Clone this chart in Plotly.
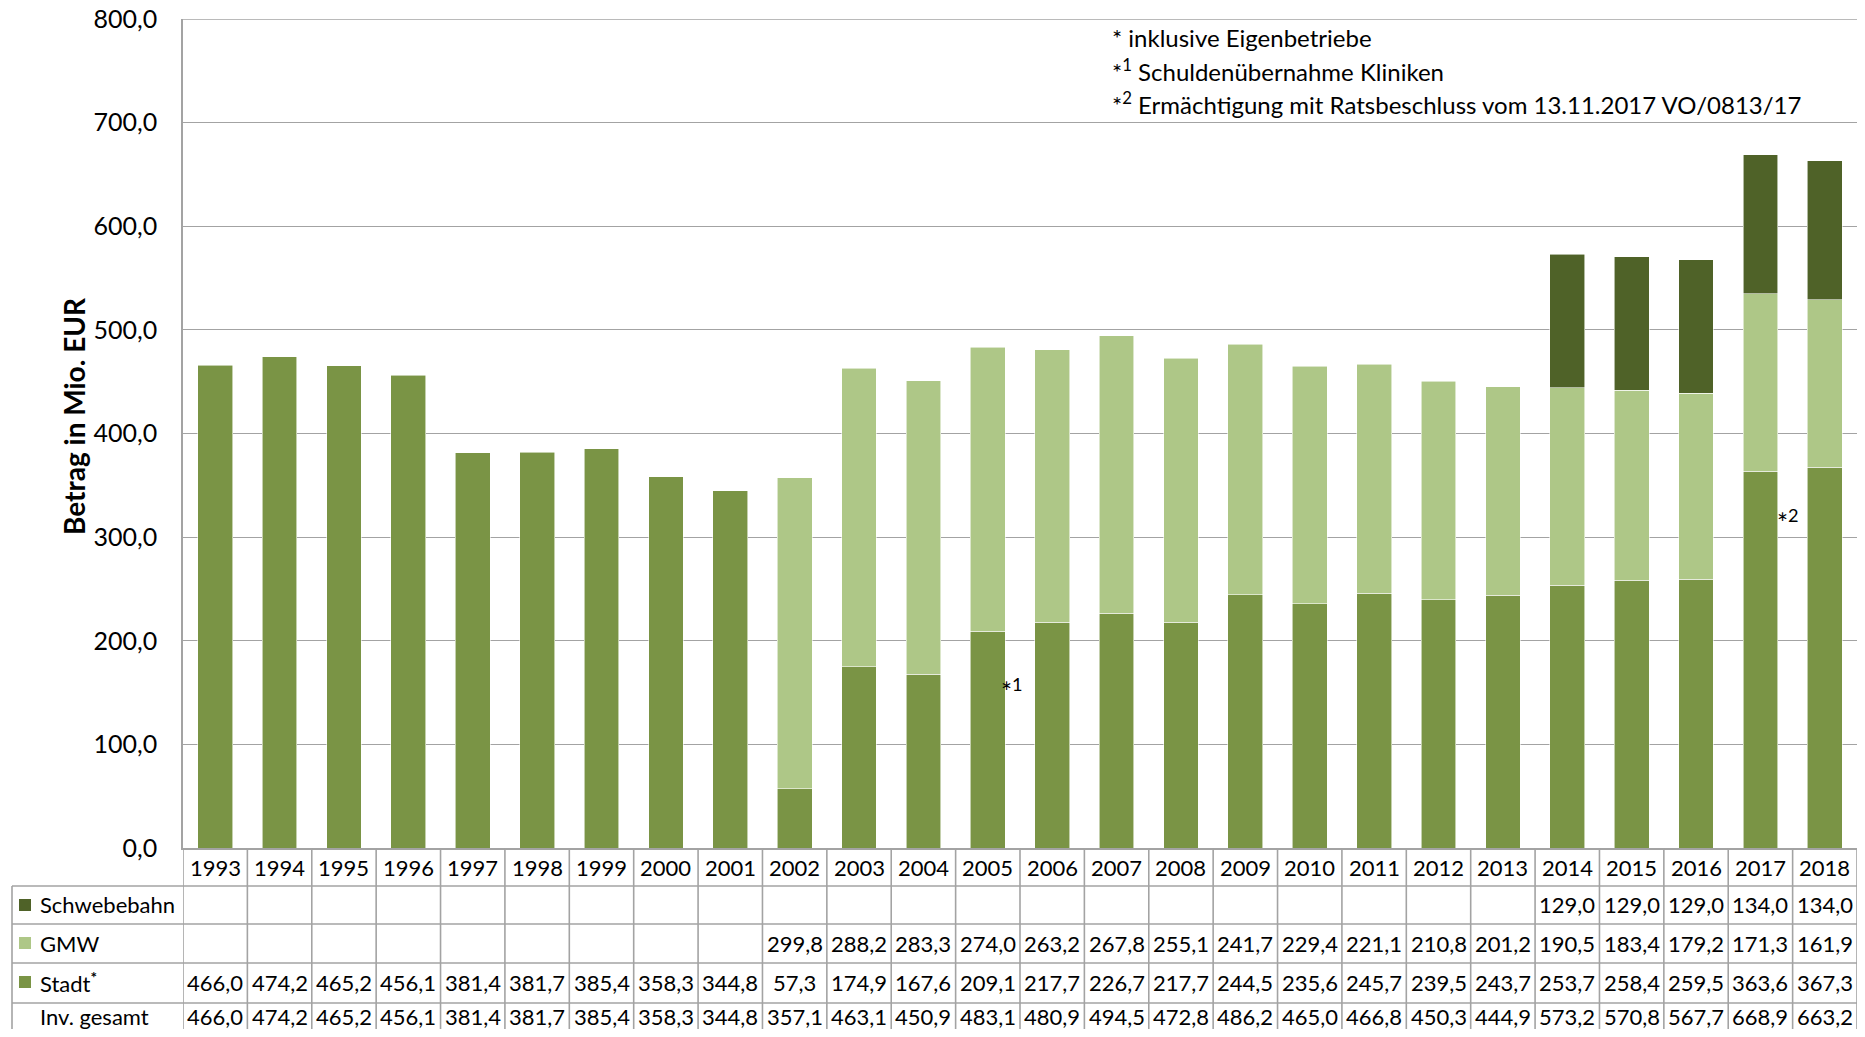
import plotly.graph_objects as go

years = list(range(1993, 2019))
stadt = [466.0, 474.2, 465.2, 456.1, 381.4, 381.7, 385.4, 358.3, 344.8, 57.3, 174.9, 167.6, 209.1,
         217.7, 226.7, 217.7, 244.5, 235.6, 245.7, 239.5, 243.7, 253.7, 258.4, 259.5, 363.6, 367.3]
gmw = [None] * 9 + [299.8, 288.2, 283.3, 274.0, 263.2, 267.8, 255.1, 241.7, 229.4, 221.1, 210.8,
                    201.2, 190.5, 183.4, 179.2, 171.3, 161.9]
schwebebahn = [None] * 21 + [129.0, 129.0, 129.0, 134.0, 134.0]
gesamt = [466.0, 474.2, 465.2, 456.1, 381.4, 381.7, 385.4, 358.3, 344.8, 357.1, 463.1, 450.9, 483.1,
          480.9, 494.5, 472.8, 486.2, 465.0, 466.8, 450.3, 444.9, 573.2, 570.8, 567.7, 668.9, 663.2]

C_STADT = "#7A9445"
C_GMW = "#AEC787"
C_SB = "#4F6228"
GRID = "#A3A3A3"
FONT = "Lato"

OFF = 8  # page body margin
W, H = 1865 - 2 * OFF, 1037 - 2 * OFF
# page coordinates of the plot area
PL, PR, PT, PB = 183, 1857, 19, 848
L, R, T, B = PL - OFF, PR - OFF, PT - OFF, PB - OFF


def px_x(px):
    return (px - PL) / (PR - PL)


def px_y(py):
    return (PB - py) / (PB - PT)


def fmt(v):
    return "" if v is None else f"{v:.1f}".replace(".", ",")


fig = go.Figure()
bar_line = dict(width=0.8, color="rgba(255,255,255,0.7)")
fig.add_trace(go.Bar(x=years, y=stadt, name="Stadt", marker=dict(color=C_STADT, line=bar_line)))
fig.add_trace(go.Bar(x=years, y=gmw, name="GMW", marker=dict(color=C_GMW, line=bar_line)))
fig.add_trace(go.Bar(x=years, y=schwebebahn, name="Schwebebahn", marker=dict(color=C_SB, line=bar_line)))

shapes = []
annotations = []

row_lines = [886, 924, 963, 1003]
bottom = 1040
rows = [
    ("Schwebebahn", schwebebahn, C_SB, 905),
    ("GMW", gmw, C_GMW, 943),
    ("Stadt<sup><b>*</b></sup>", stadt, C_STADT, 982),
    ("Inv. gesamt", gesamt, None, 1016),
]
TFONT = dict(size=22, color="black", family=FONT)

for yr in years:
    annotations.append(dict(x=yr, y=px_y(867), xref="x", yref="paper", text=str(yr), showarrow=False,
                            font=TFONT, xanchor="center", yanchor="middle"))

for label, vals, col, yc in rows:
    annotations.append(dict(x=px_x(38), y=px_y(yc), xref="paper", yref="paper", text=label, showarrow=False,
                            font=TFONT, xanchor="left", yanchor="middle"))
    if col:
        shapes.append(dict(type="rect", xref="paper", yref="paper", x0=px_x(19), x1=px_x(31),
                           y0=px_y(yc + 6), y1=px_y(yc - 6), fillcolor=col, line=dict(width=0)))
    for yr, v in zip(years, vals):
        if v is None:
            continue
        annotations.append(dict(x=yr, y=px_y(yc), xref="x", yref="paper", text=fmt(v), showarrow=False,
                                font=TFONT, xanchor="center", yanchor="middle"))

tline = dict(color=GRID, width=1.6)
for py in row_lines:
    shapes.append(dict(type="line", xref="paper", yref="paper", x0=px_x(12), x1=1, y0=px_y(py), y1=px_y(py), line=tline))
shapes.append(dict(type="line", xref="paper", yref="paper", x0=px_x(12), x1=px_x(12), y0=px_y(886), y1=px_y(bottom), line=tline))
for i in range(len(years) + 1):
    xv = years[0] - 0.5 + i
    shapes.append(dict(type="line", xref="x", yref="paper", x0=xv, x1=xv, y0=0, y1=px_y(bottom), line=tline))

# top gridline at 800
shapes.append(dict(type="line", xref="paper", yref="y", x0=0, x1=1, y0=800, y1=800, line=dict(color=GRID, width=1.3)))

# footnote marks
annotations.append(dict(x=2005.18, y=152, xref="x", yref="y", text="*<sup>1</sup>", showarrow=False,
                        font=dict(size=26, color="black", family=FONT), xanchor="left", yanchor="middle"))
annotations.append(dict(x=2017.22, y=315, xref="x", yref="y", text="*<sup>2</sup>", showarrow=False,
                        font=dict(size=26, color="black", family=FONT), xanchor="left", yanchor="middle"))

notes = ["* inklusive Eigenbetriebe",
         "*<sup>1</sup> Schuldenübernahme Kliniken",
         "*<sup>2</sup> Ermächtigung mit Ratsbeschluss vom 13.11.2017 VO/0813/17"]
for txt, yc in zip(notes, [38, 70, 103]):
    annotations.append(dict(x=px_x(1110), y=px_y(yc), xref="paper", yref="paper", text=txt, showarrow=False,
                            font=dict(size=24, color="black", family=FONT), xanchor="left", yanchor="middle"))

annotations.append(dict(x=px_x(74), y=px_y(416), xref="paper", yref="paper", text="<b>Betrag in Mio. EUR</b>",
                        textangle=-90, showarrow=False, font=dict(size=28, color="black", family=FONT),
                        xanchor="center", yanchor="middle"))

fig.update_layout(
    width=W, height=H,
    margin=dict(l=L, r=W - R, t=T, b=H - B, pad=0, autoexpand=False),
    barmode="stack", bargap=0.46,
    plot_bgcolor="white", paper_bgcolor="white",
    showlegend=False,
    separators=",.",
    font=dict(family=FONT, color="black"),
    shapes=shapes, annotations=annotations,
    xaxis=dict(range=[years[0] - 0.5, years[-1] + 0.5], showticklabels=False, ticks="", automargin=False,
               showgrid=False, zeroline=False, showline=True, linecolor=GRID, linewidth=1.6),
    yaxis=dict(range=[0, 800], tickmode="linear", tick0=0, dtick=100, tickformat=".1f", automargin=False,
               showgrid=True, gridcolor=GRID, gridwidth=1.3, ticklabeloverflow="allow",
               zeroline=False, showline=True, linecolor=GRID, linewidth=1.6, ticks="",
               tickfont=dict(size=25, color="black", family=FONT), ticklabelstandoff=19),
)

fig.write_html("out.html")
